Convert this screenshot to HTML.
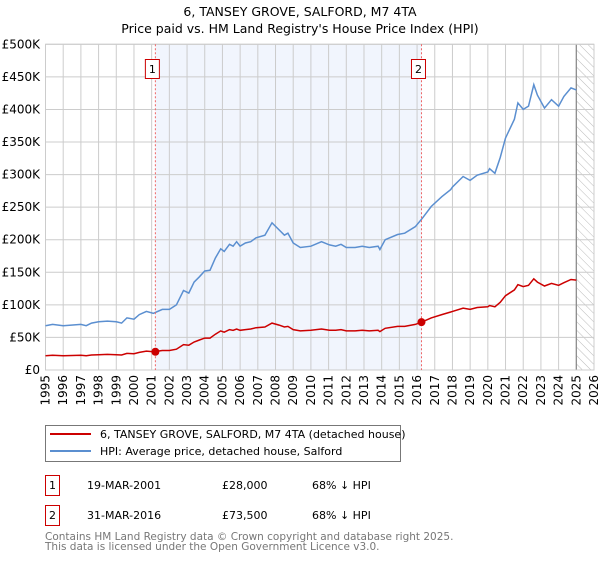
<!DOCTYPE html>
<html><head><meta charset="utf-8"><style>
body{margin:0;background:#fff;font-family:"DejaVu Sans","Liberation Sans",sans-serif;}
svg text{font-family:"DejaVu Sans","Liberation Sans",sans-serif;}
</style></head><body>
<svg id="chart" width="600" height="560" xmlns="http://www.w3.org/2000/svg">
<defs><pattern id="hatch" width="6" height="6" patternUnits="userSpaceOnUse" patternTransform="rotate(-45)"><line x1="0" y1="0" x2="0" y2="6" stroke="#bbb" stroke-width="1"/></pattern></defs>
<text x="300" y="16" text-anchor="middle" font-size="12.5">6, TANSEY GROVE, SALFORD, M7 4TA</text>
<text x="300" y="33" text-anchor="middle" font-size="12.5">Price paid vs. HM Land Registry's House Price Index (HPI)</text>
<g id="grid"></g><g id="series"></g><g id="axes"></g>
<rect x="45.5" y="425.5" width="355" height="36" fill="#fff" stroke="#777"/>
<line x1="50" y1="434" x2="91" y2="434" stroke="#cc0000" stroke-width="2"/>
<text x="100" y="438" font-size="11">6, TANSEY GROVE, SALFORD, M7 4TA (detached house)</text>
<line x1="50" y1="451" x2="91" y2="451" stroke="#5b8fd0" stroke-width="2"/>
<text x="100" y="455" font-size="11">HPI: Average price, detached house, Salford</text>
<rect x="45.5" y="475.5" width="14" height="20" fill="#fff" stroke="#cc0000"/>
<text x="52.5" y="489" text-anchor="middle" font-size="11">1</text>
<text x="87" y="489" font-size="11">19-MAR-2001</text>
<text x="222" y="489" font-size="11">£28,000</text>
<text x="312" y="489" font-size="11">68% ↓ HPI</text>
<rect x="45.5" y="505.5" width="14" height="20" fill="#fff" stroke="#cc0000"/>
<text x="52.5" y="519" text-anchor="middle" font-size="11">2</text>
<text x="87" y="519" font-size="11">31-MAR-2016</text>
<text x="222" y="519" font-size="11">£73,500</text>
<text x="312" y="519" font-size="11">68% ↓ HPI</text>
<text x="45" y="540" font-size="10.5" fill="#777">Contains HM Land Registry data © Crown copyright and database right 2025.</text>
<text x="45" y="550" font-size="10.5" fill="#777">This data is licensed under the Open Government Licence v3.0.</text>
</svg>
<script>
const dates=[1995,1995.4,1996,1997,1997.3,1997.6,1998,1998.5,1999,1999.3,1999.6,2000,2000.3,2000.7,2001.1,2001.6,2002,2002.4,2002.8,2003.1,2003.4,2003.7,2004,2004.3,2004.6,2004.9,2005.1,2005.4,2005.6,2005.8,2006,2006.3,2006.6,2006.9,2007.4,2007.8,2008.2,2008.5,2008.7,2009,2009.4,2010,2010.6,2011.05,2011.4,2011.7,2012,2012.5,2012.9,2013.3,2013.8,2013.9,2014.2,2014.9,2015.3,2015.9,2016.3,2016.8,2017.4,2017.9,2018.0,2018.6,2019.0,2019.4,2020.0,2020.1,2020.4,2020.7,2021.0,2021.5,2021.7,2022.0,2022.3,2022.6,2022.8,2023.2,2023.6,2024.0,2024.3,2024.7,2025.0];
const hpi=[68,70,68,70,68,72,74,75,74,72,80,78,85,90,87,93,93,100,122,118,135,143,152,153,172,186,182,193,190,197,190,195,197,203,207,226,215,207,210,195,188,190,197,192,190,193,188,188,190,188,190,185,200,208,210,220,233,251,266,277,281,297,291,299,304,309,302,326,356,385,410,400,405,438,422,402,415,405,420,433,430];
const pricePaid=[22,22.5,22,22.5,22,23,23.5,24,23.5,23,25.5,25,27,29,28,30,30,32,39,38,43,46,49,49,55,60,58,62,61,63,61,62,63,65,66,72,69,66,67,62,60,61,63,61,61,62,60,60,61,60,61,59,64,67,67,70,74,80,85,89,90,95,93,96,97,99,97,104,114,123,131,128,130,140,135,129,133,130,134,139,138];
const yTicks=[0,50,100,150,200,250,300,350,400,450,500];
const yTickLabels=["£0","£50K","£100K","£150K","£200K","£250K","£300K","£350K","£400K","£450K","£500K"];
const xYears=[1995,1996,1997,1998,1999,2000,2001,2002,2003,2004,2005,2006,2007,2008,2009,2010,2011,2012,2013,2014,2015,2016,2017,2018,2019,2020,2021,2022,2023,2024,2025,2026];
const saleDates=[2001.21,2016.25];
const salePrices=[28,73.5];
const saleLabels=["1","2"];
const dataEnd=2025.0;

const NS="http://www.w3.org/2000/svg";
const L=45.5,R=594,T=44.3,B=370;
const x=v=>L+(v-1995)/(2026-1995)*(R-L);
const y=v=>B-v/500*(B-T);
function mk(tag,attrs,parent){const e=document.createElementNS(NS,tag);for(const k in attrs)e.setAttribute(k,attrs[k]);parent.appendChild(e);return e;}
const grid=document.getElementById('grid'),ser=document.getElementById('series'),ax=document.getElementById('axes');
let e;
e=mk('rect',{x:x(saleDates[0]),y:T,width:x(saleDates[1])-x(saleDates[0]),height:B-T,fill:'#eef3fd',opacity:0.8},grid);


e=mk('rect',{x:x(dataEnd),y:T,width:R-x(dataEnd),height:B-T,fill:'url(#hatch)'},grid);


yTicks.forEach((t,i)=>{
 e=mk('line',{x1:L,x2:R,y1:y(t),y2:y(t),stroke:'#ccc','stroke-width':1},grid);
 
 
 e=mk('text',{x:40,y:y(t)+4,'text-anchor':'end','font-size':12},ax);
 e.textContent=yTickLabels[i];
 
 
});
xYears.forEach(yr=>{
 e=mk('line',{x1:x(yr),x2:x(yr),y1:T,y2:B,stroke:'#ccc','stroke-width':1},grid);
 
 
 e=mk('text',{x:0,y:0,'text-anchor':'end','font-size':12,transform:`translate(${x(yr)+4},${B+5}) rotate(-90)`},ax);
 e.textContent=yr;
 
 
});
e=mk('line',{x1:x(dataEnd),x2:x(dataEnd),y1:T,y2:B,stroke:'#888','stroke-width':1.2},grid);


e=mk('rect',{x:L,y:T,width:R-L,height:B-T,fill:'none',stroke:'#ccc'},grid);


const pts=a=>a.map((v,i)=>x(dates[i]).toFixed(1)+','+y(v).toFixed(1)).join(' ');
e=mk('polyline',{points:pts(hpi),fill:'none',stroke:'#5b8fd0','stroke-width':1.5},ser);


e=mk('polyline',{points:pts(pricePaid),fill:'none',stroke:'#cc0000','stroke-width':1.5},ser);


saleDates.forEach((d,i)=>{
 e=mk('line',{x1:x(d),x2:x(d),y1:T,y2:B,stroke:'#e66','stroke-width':1,'stroke-dasharray':'2,2'},ser);
 
 
 e=mk('circle',{cx:x(d),cy:y(salePrices[i]),r:4,fill:'#cc0000'},ser);
 
 
 e=mk('rect',{x:x(d)-10,y:59.5,width:14,height:19,fill:'#fff',stroke:'#cc0000'},ser);
 
 
 e=mk('text',{x:x(d)-3,y:73,'text-anchor':'middle','font-size':11},ser);
 e.textContent=saleLabels[i];
 
 
});
</script>
</body></html>
